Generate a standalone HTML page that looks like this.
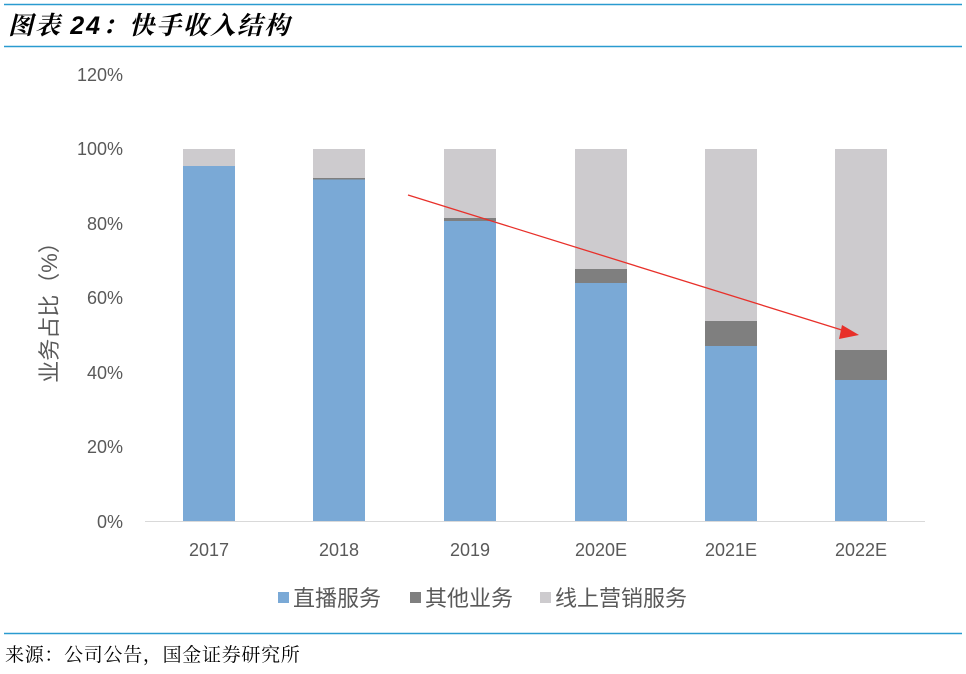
<!DOCTYPE html>
<html><head><meta charset="utf-8"><style>
body{margin:0;background:#fff;width:966px;height:669px;overflow:hidden}
</style></head><body>
<svg width="966" height="669" xmlns="http://www.w3.org/2000/svg" font-family="Liberation Sans, Noto Sans CJK SC, sans-serif">
<line x1="4" y1="4.5" x2="962" y2="4.5" stroke="#2a9bd0" stroke-width="1.5"/>
<line x1="4" y1="46.5" x2="962" y2="46.5" stroke="#2a9bd0" stroke-width="1.5"/>
<text x="8" y="34" font-size="25" font-weight="bold" font-style="italic" font-family="Liberation Serif, Noto Serif CJK SC, serif" fill="#000" letter-spacing="2">图表 <tspan font-family="Liberation Sans, sans-serif">24</tspan>：快手收入结构</text>
<g font-size="18" fill="#595959" text-anchor="end">
<text x="123" y="81">120%</text><text x="123" y="155">100%</text><text x="123" y="230">80%</text>
<text x="123" y="304">60%</text><text x="123" y="379">40%</text><text x="123" y="453">20%</text><text x="123" y="528">0%</text>
</g>
<text transform="translate(57,307) rotate(-90)" font-size="22" fill="#595959" text-anchor="middle">业务占比（%）</text>
<g>
<rect x="183" y="149" width="52" height="17" fill="#cdcbce"/><rect x="183" y="166" width="52" height="355" fill="#7aa9d6"/>
<rect x="313" y="149" width="52" height="29" fill="#cdcbce"/><rect x="313" y="178" width="52" height="1.5" fill="#7f7f7f"/><rect x="313" y="179.5" width="52" height="341.5" fill="#7aa9d6"/>
<rect x="444" y="149" width="52" height="69" fill="#cdcbce"/><rect x="444" y="218" width="52" height="3" fill="#7f7f7f"/><rect x="444" y="221" width="52" height="300" fill="#7aa9d6"/>
<rect x="575" y="149" width="52" height="120" fill="#cdcbce"/><rect x="575" y="269" width="52" height="14" fill="#7f7f7f"/><rect x="575" y="283" width="52" height="238" fill="#7aa9d6"/>
<rect x="705" y="149" width="52" height="172" fill="#cdcbce"/><rect x="705" y="321" width="52" height="25" fill="#7f7f7f"/><rect x="705" y="346" width="52" height="175" fill="#7aa9d6"/>
<rect x="835" y="149" width="52" height="201" fill="#cdcbce"/><rect x="835" y="350" width="52" height="30" fill="#7f7f7f"/><rect x="835" y="380" width="52" height="141" fill="#7aa9d6"/>
</g>
<line x1="145" y1="521.5" x2="925" y2="521.5" stroke="#d9d9d9" stroke-width="1"/>
<g font-size="18" fill="#595959" text-anchor="middle">
<text x="209" y="556">2017</text><text x="339" y="556">2018</text><text x="470" y="556">2019</text>
<text x="601" y="556">2020E</text><text x="731" y="556">2021E</text><text x="861" y="556">2022E</text>
</g>
<line x1="408" y1="195" x2="845" y2="331" stroke="#e8302a" stroke-width="1.3"/>
<polygon points="859,335 842,325 839,339" fill="#e8302a"/>
<g font-size="22" fill="#595959">
<rect x="278" y="592" width="11" height="11" fill="#7aa9d6"/><text x="293" y="606">直播服务</text>
<rect x="410" y="592" width="11" height="11" fill="#7f7f7f"/><text x="425" y="606">其他业务</text>
<rect x="540" y="592" width="11" height="11" fill="#cdcbce"/><text x="555" y="606">线上营销服务</text>
</g>
<line x1="4" y1="633.5" x2="962" y2="633.5" stroke="#2a9bd0" stroke-width="1.5"/>
<text x="5" y="661" font-size="19" font-family="Liberation Serif, Noto Serif CJK SC, serif" fill="#000" letter-spacing="0.7">来源：公司公告，国金证券研究所</text>
</svg>
</body></html>
